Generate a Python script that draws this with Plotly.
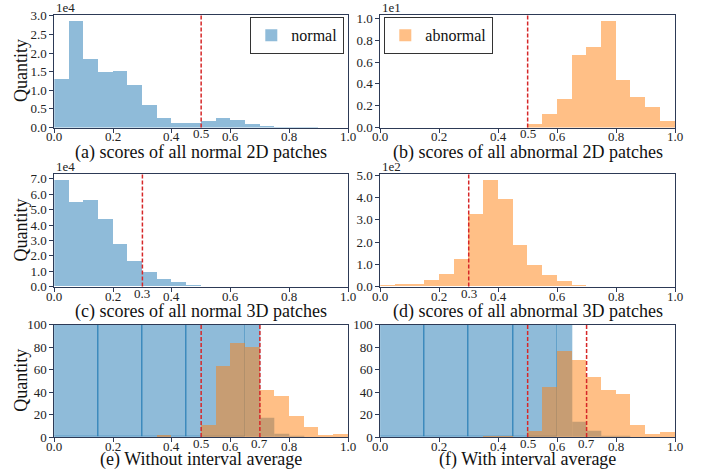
import numpy as np
import plotly.graph_objects as go
from plotly.subplots import make_subplots

# ---------------- data ----------------
bin_edges = np.round(np.linspace(0, 1, 21), 2)
bin_centers = (bin_edges[:-1] + bin_edges[1:]) / 2
x_tickvals = [0.0, 0.2, 0.4, 0.6, 0.8, 1.0]

# (a) normal 2D scores, units of 1e4
normal_2d = [1.31, 2.87, 1.84, 1.50, 1.52, 1.15, 0.61, 0.26, 0.125, 0.125,
             0.18, 0.26, 0.21, 0.10, 0.045, 0.02, 0.01, 0.01, 0.005, 0.005]
# (b) abnormal 2D scores, units of 1e1
abnormal_2d = [0, 0, 0, 0, 0, 0, 0, 0, 0, 0,
               0.037, 0.129, 0.268, 0.665, 0.738, 0.978, 0.443, 0.286, 0.194, 0.065]
# (c) normal 3D scores, units of 1e4
normal_3d = [6.94, 5.51, 5.64, 4.34, 2.73, 1.67, 0.95, 0.50, 0.26, 0.11,
             0.02, 0.01, 0.005, 0.005, 0.003, 0.003, 0.002, 0.002, 0.001, 0.001]
# (d) abnormal 3D scores, units of 1e2
abnormal_3d = [0.05, 0.09, 0.09, 0.27, 0.54, 1.22, 3.26, 4.80, 3.94, 1.86,
               0.95, 0.50, 0.23, 0.05, 0, 0, 0, 0, 0, 0]

# (e) without interval average
e_normal_edges = [0, 0.15, 0.30, 0.45, 0.65, 0.70, 0.75, 0.80, 0.85]
e_normal_counts = [1000, 1000, 1000, 1000, 400, 17, 3, 1]
e_normal_edge_w = [1, 1, 1, 1, 0, 0, 0, 0]
e_abnormal = [0, 0, 0, 0, 0, 0, 0, 1.8, 0, 0,
              10.7, 63.2, 83.7, 80.1, 41.8, 36.5, 18.7, 8.9, 1.8, 2.7]

# (f) with interval average
f_normal_edges = [0, 0.15, 0.30, 0.45, 0.60, 0.65, 0.70, 0.75, 0.80, 0.85]
f_normal_counts = [1000, 1000, 1000, 1000, 300, 13.6, 5.3, 1, 1]
f_normal_edge_w = [1, 1, 1, 1, 0, 0, 0, 0, 0]
f_abnormal = [0, 0, 0, 0, 0, 0, 0, 1, 1, 0,
              5.3, 45, 76.5, 68.5, 53.4, 41.8, 38.3, 10.7, 2.7, 4.5]

thresholds = {1: [0.5], 2: [0.5], 3: [0.3], 4: [0.3], 5: [0.5, 0.7], 6: [0.5, 0.7]}
offset_texts = {1: "1e4", 2: "1e1", 3: "1e4", 4: "1e2"}
captions = ["(a) scores of all normal 2D patches", "(b) scores of all abnormal 2D patches",
            "(c) scores of all normal 3D patches", "(d) scores of all abnormal 3D patches",
            "(e) Without interval average", "(f) With interval average"]
ylabel = "Quantity"

# ---------------- style ----------------
BLUE = "rgba(31,119,180,0.5)"
BLUE_EDGE = "rgba(31,119,180,0.7)"
ORANGE = "rgba(255,127,14,0.5)"
FRAME = "#2d3a56"
RED = "#d62728"
SERIF = "Liberation Serif"
W, H = 710, 476

xdom = {1: [54.3, 348.0], 2: [380.3, 675.0]}
ydom = {1: [14.7, 127.5], 2: [174.3, 286.5], 3: [324.7, 437.0]}
cap_y = {1: 152.5, 2: 311.5, 3: 459.5}

fig = make_subplots(rows=3, cols=2)

def var_width(edges):
    e = np.array(edges)
    return (e[:-1] + e[1:]) / 2, np.diff(e)

# (a)
fig.add_trace(go.Bar(x=bin_centers, y=normal_2d, width=0.05, name="normal",
                     marker=dict(color=BLUE, line=dict(width=0)), legend="legend"), 1, 1)
# (b)
fig.add_trace(go.Bar(x=bin_centers, y=abnormal_2d, width=0.05, name="abnormal",
                     marker=dict(color=ORANGE, line=dict(width=0)), legend="legend2"), 1, 2)
# (c)
fig.add_trace(go.Bar(x=bin_centers, y=normal_3d, width=0.05, showlegend=False,
                     marker=dict(color=BLUE, line=dict(width=0))), 2, 1)
# (d)
fig.add_trace(go.Bar(x=bin_centers, y=abnormal_3d, width=0.05, showlegend=False,
                     marker=dict(color=ORANGE, line=dict(width=0))), 2, 2)
# (e)
cx, wx = var_width(e_normal_edges)
fig.add_trace(go.Bar(x=cx, y=e_normal_counts, width=wx, showlegend=False,
                     marker=dict(color=BLUE, line=dict(width=e_normal_edge_w, color=BLUE_EDGE))), 3, 1)
fig.add_trace(go.Bar(x=bin_centers, y=e_abnormal, width=0.05, showlegend=False,
                     marker=dict(color=ORANGE, line=dict(width=0))), 3, 1)
# (f)
cx, wx = var_width(f_normal_edges)
fig.add_trace(go.Bar(x=cx, y=f_normal_counts, width=wx, showlegend=False,
                     marker=dict(color=BLUE, line=dict(width=f_normal_edge_w, color=BLUE_EDGE))), 3, 2)
fig.add_trace(go.Bar(x=bin_centers, y=f_abnormal, width=0.05, showlegend=False,
                     marker=dict(color=ORANGE, line=dict(width=0))), 3, 2)

yspecs = {
    1: dict(range=[0, 3.03], tickvals=[0, 0.5, 1.0, 1.5, 2.0, 2.5, 3.0], tickformat=".1f"),
    2: dict(range=[0, 1.035], tickvals=[0, 0.2, 0.4, 0.6, 0.8, 1.0], tickformat=".1f"),
    3: dict(range=[0, 7.3], tickvals=[0, 1, 2, 3, 4, 5, 6, 7], tickformat=".1f"),
    4: dict(range=[0, 5.05], tickvals=[0, 1, 2, 3, 4, 5], tickformat=".1f"),
    5: dict(range=[0, 100], tickvals=[0, 20, 40, 60, 80, 100]),
    6: dict(range=[0, 100], tickvals=[0, 20, 40, 60, 80, 100]),
}

tickfont = dict(family=SERIF, size=13, color="#222")
axis_common = dict(showline=True, mirror=True, linecolor=FRAME, linewidth=1,
                   ticks="outside", ticklen=4, tickwidth=1, tickcolor=FRAME,
                   showgrid=False, zeroline=False, tickfont=tickfont, automargin=False)

annotations = []
shapes = []
for i in range(1, 7):
    row = (i - 1) // 2 + 1
    col = (i - 1) % 2 + 1
    xd = [xdom[col][0] / W, xdom[col][1] / W]
    yd = [1 - ydom[row][1] / H, 1 - ydom[row][0] / H]
    sfx = "" if i == 1 else str(i)
    fig.layout["xaxis" + sfx].update(domain=xd, range=[0, 1], tickvals=x_tickvals,
                                      showticklabels=False, **axis_common)
    fig.layout["yaxis" + sfx].update(domain=yd, **yspecs[i], **axis_common)
    # x tick labels placed on the axis scale
    for v in x_tickvals:
        annotations.append(dict(xref="x" + sfx, yref="y" + sfx + " domain", x=v, y=0,
                                yanchor="top", xanchor="center", yshift=0,
                                text=f"{v:.1f}", showarrow=False, font=tickfont))
    if col == 1:
        annotations.append(dict(xref="paper", yref="paper", x=21 / W, y=(yd[0] + yd[1]) / 2,
                                xanchor="center", yanchor="middle", textangle=-90,
                                text=ylabel, showarrow=False,
                                font=dict(family=SERIF, size=18, color="#111")))
    for t in thresholds[i]:
        shapes.append(dict(type="line", xref="x" + sfx, yref="y" + sfx + " domain",
                           x0=t, x1=t, y0=0, y1=1,
                           line=dict(color=RED, width=1.5, dash="4px,2px")))
        annotations.append(dict(xref="x" + sfx, yref="y" + sfx + " domain", x=t, y=0,
                                yanchor="top", xanchor="center", yshift=3,
                                text=f"{t:.1f}", showarrow=False, font=tickfont))
    if i in offset_texts:
        annotations.append(dict(xref="paper", yref="paper", x=xd[0], y=yd[1],
                                xanchor="left", yanchor="bottom", yshift=-2,
                                text=offset_texts[i], showarrow=False, font=tickfont))
    annotations.append(dict(xref="paper", yref="paper", x=(xd[0] + xd[1]) / 2,
                            y=1 - cap_y[row] / H, xanchor="center", yanchor="middle",
                            text=captions[i - 1], showarrow=False,
                            font=dict(family=SERIF, size=18, color="#111")))

legend_style = dict(bgcolor="white", bordercolor="#333", borderwidth=1.3,
                    font=dict(family=SERIF, size=16, color="#111"),
                    yanchor="top", y=1 - 17 / H, itemsizing="constant")

fig.update_layout(
    width=W, height=H, margin=dict(l=0, r=0, t=0, b=0),
    paper_bgcolor="white", plot_bgcolor="white",
    barmode="overlay", bargap=0,
    annotations=annotations, shapes=shapes,
    legend=dict(x=344 / W, xanchor="right", **legend_style),
    legend2=dict(x=384 / W, xanchor="left", **legend_style),
)

fig.write_html("out.html", config={"displayModeBar": False},
               post_script="document.body.style.margin='0';document.body.style.overflow='hidden';")
